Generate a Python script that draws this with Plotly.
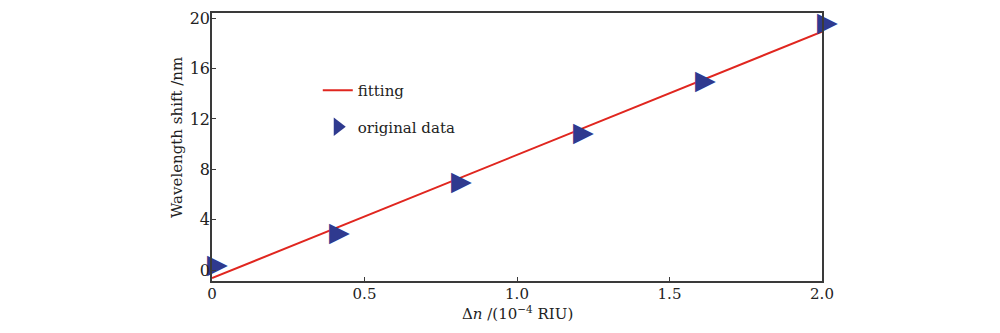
import plotly.graph_objects as go

# Data
dn_data = [0.0, 0.4, 0.8, 1.2, 1.6, 2.0]
shift_data = [0.3, 2.86, 6.88, 10.78, 14.94, 19.53]

dn_fit = [0.0, 2.0]
shift_fit = [-0.62, 18.92]

x_ticks = [0, 0.5, 1.0, 1.5, 2.0]
x_ticktext = ["0", "0.5", "1.0", "1.5", "2.0"]
y_ticks = [0, 4, 8, 12, 16, 20]

FONT = "DejaVu Serif"
AX = "#3a3a3a"
RED = "#e0261f"
BLUE = "#2f3a8f"

fig = go.Figure()
fig.add_trace(go.Scatter(
    x=dn_fit, y=shift_fit, mode="lines", name="fitting",
    line=dict(color=RED, width=2), legendgroup="a",
    cliponaxis=False,
))
# data points drawn as wide right-pointing triangles
fig.add_trace(go.Scatter(
    x=dn_data, y=shift_data, mode="text", name="original data",
    text=["\u2009\u2009▶"] * len(dn_data), textposition="middle center",
    textfont=dict(family="DejaVu Sans", size=27, color=BLUE),
    showlegend=False, cliponaxis=False, legendgroup="b",
))
# legend entry for the data points
fig.add_trace(go.Scatter(
    x=[None], y=[None], mode="markers", name="original data",
    marker=dict(symbol="triangle-right", size=16, color=BLUE),
    legendgroup="b",
))

fig.update_layout(
    width=1000, height=333,
    margin=dict(l=212, r=178, t=9, b=52),
    paper_bgcolor="white", plot_bgcolor="white",
    font=dict(family=FONT, size=15, color="#222"),
    showlegend=True,
    legend=dict(
        x=0.1734, y=0.7727, xanchor="left", yanchor="top",
        bgcolor="rgba(0,0,0,0)", font=dict(family=FONT, size=15, color="#222"),
        tracegroupgap=14, traceorder="grouped",
    ),
    xaxis=dict(
        range=[0, 2.0], tickvals=x_ticks, ticktext=x_ticktext,
        ticks="inside", ticklen=4, tickcolor=AX, tickwidth=1,
        showline=True, linecolor=AX, linewidth=1.5, mirror=True,
        showgrid=False, zeroline=False,
        tickfont=dict(family=FONT, size=15, color="#222"),
        ticklabelstandoff=-2,
    ),
    yaxis=dict(
        range=[-0.85, 20.4], tickvals=y_ticks,
        ticks="inside", ticklen=4, tickcolor=AX, tickwidth=1,
        showline=True, linecolor=AX, linewidth=1.5, mirror=True,
        showgrid=False, zeroline=False,
        tickfont=dict(family=FONT, size=16, color="#222"),
        ticklabelstandoff=-3,
    ),
    annotations=[
        dict(xref="paper", yref="paper", x=0.5, y=0, yanchor="middle", yshift=-32,
             text="Δ<i>n</i> /(10<sup>−4</sup> RIU)", showarrow=False,
             font=dict(family=FONT, size=15, color="#222")),
        dict(xref="paper", yref="paper", x=0, y=0.5, xanchor="center", xshift=-35,
             yshift=9, textangle=-90, text="Wavelength shift /nm", showarrow=False,
             font=dict(family=FONT, size=15, color="#222")),
    ],
)

fig.write_html("out.html", config={"displayModeBar": False},
               post_script="document.body.style.margin='0';")
